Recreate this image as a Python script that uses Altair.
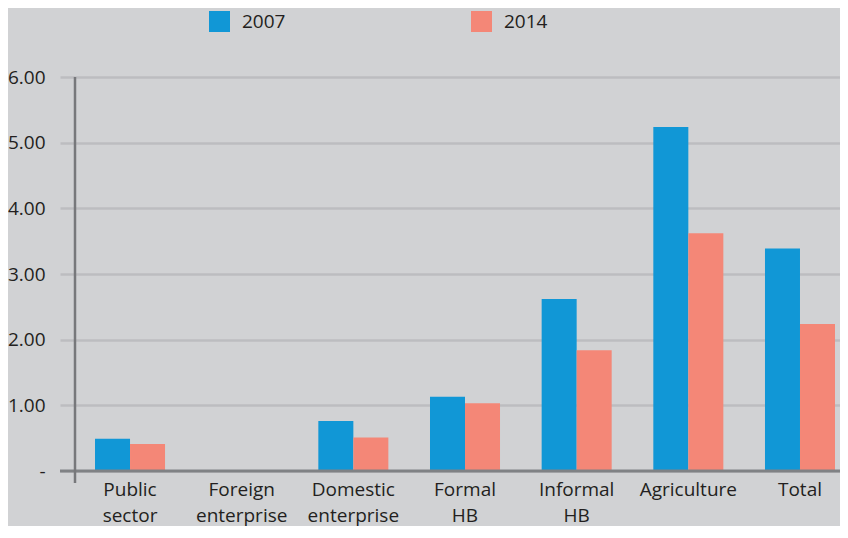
import altair as alt
import pandas as pd

categories = ["Public sector", "Foreign enterprise", "Domestic enterprise",
              "Formal HB", "Informal HB", "Agriculture", "Total"]
years = ["2007", "2014"]
v2007 = [0.49, 0.0, 0.76, 1.13, 2.62, 5.24, 3.39]
v2014 = [0.41, 0.0, 0.51, 1.03, 1.84, 3.62, 2.24]
y_ticks = [0, 1, 2, 3, 4, 5, 6]
colors = ["#1197d6", "#f48777"]

rows = []
for c, a, b in zip(categories, v2007, v2014):
    rows.append({"cat": c, "year": "2007", "value": a})
    rows.append({"cat": c, "year": "2014", "value": b})
df = pd.DataFrame(rows)

FONT = "Open Sans"
TXT = "#231f20"
GRID = "#bcbdc0"
W, H = 765, 394

bars = alt.Chart(df).mark_bar().encode(
    x=alt.X("cat:N", sort=categories,
            scale=alt.Scale(paddingInner=0.373, paddingOuter=0.112, align=0.8),
            axis=alt.Axis(title=None, domain=False, ticks=False, grid=False,
                          labelAngle=0, labelPadding=9, labelFontSize=19,
                          labelLineHeight=26, labelLimit=300,
                          labelExpr="split(datum.label, ' ')")),
    xOffset=alt.XOffset("year:N", sort=years,
                        scale=alt.Scale(paddingInner=0, paddingOuter=0)),
    y=alt.Y("value:Q", scale=alt.Scale(domain=[0, 6], nice=False),
            axis=alt.Axis(title=None, values=y_ticks, domain=False,
                          grid=True, gridColor=GRID, gridWidth=2.5,
                          ticks=True, tickSize=15, tickColor=GRID, tickWidth=2.5,
                          labelPadding=15, labelFontSize=19,
                          labelExpr="datum.value == 0 ? '-' : format(datum.value, '.2f')")),
    color=alt.Color("year:N", sort=years,
                    scale=alt.Scale(domain=years, range=colors),
                    legend=alt.Legend(title=None, orient="none", legendX=134, legendY=-66,
                                      direction="horizontal", symbolType="square",
                                      symbolSize=441, symbolStrokeWidth=0,
                                      labelFontSize=19, labelOffset=12,
                                      columnPadding=185, padding=0)),
)

zero = alt.Chart(pd.DataFrame({"z": [0]})).mark_rule(color="#808285", strokeWidth=3).encode(
    y=alt.Y("z:Q"), x=alt.value(-15), x2=alt.value(W)
)
vaxis = alt.Chart(pd.DataFrame({"z": [0]})).mark_rule(color="#77787b", strokeWidth=2.5).encode(
    x=alt.value(0), y=alt.value(0), y2=alt.value(H + 12)
)

chart = alt.layer(bars, zero, vaxis).properties(
    width=W, height=H,
    background="#d1d2d4",
    autosize=alt.AutoSizeParams(type="none"),
    padding={"left": 67, "top": 69, "right": 0, "bottom": 55},
).configure_view(stroke=None).configure_axis(
    labelFont=FONT, labelColor=TXT
).configure_legend(labelFont=FONT, labelColor=TXT)

chart.save("out.html", embed_options={"renderer": "svg", "actions": False})
